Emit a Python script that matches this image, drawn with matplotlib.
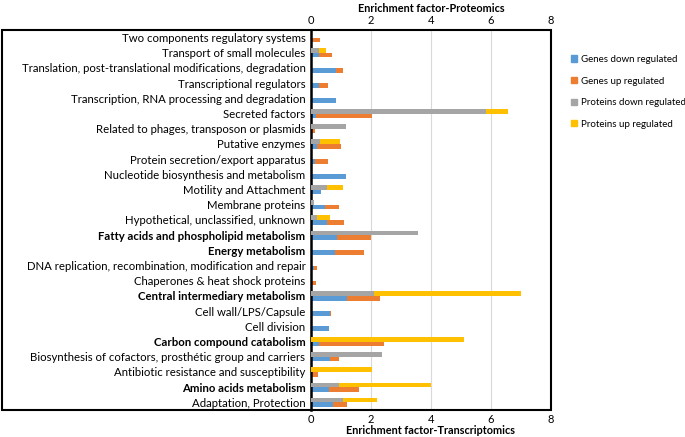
import numpy as np
import matplotlib
matplotlib.use("Agg")
import matplotlib.pyplot as plt
from matplotlib.patches import Rectangle, Patch

plt.rcParams['font.family'] = ['Lato', 'DejaVu Sans']

# categories, top to bottom
categories = [
    "Two components regulatory systems",
    "Transport of small molecules",
    "Translation, post-translational modifications, degradation",
    "Transcriptional regulators",
    "Transcription, RNA processing and degradation",
    "Secreted factors",
    "Related to phages, transposon or plasmids",
    "Putative enzymes",
    "Protein secretion/export apparatus",
    "Nucleotide biosynthesis and metabolism",
    "Motility and Attachment",
    "Membrane proteins",
    "Hypothetical, unclassified, unknown",
    "Fatty acids and phospholipid metabolism",
    "Energy metabolism",
    "DNA replication, recombination, modification and repair",
    "Chaperones & heat shock proteins",
    "Central intermediary metabolism",
    "Cell wall/LPS/Capsule",
    "Cell division",
    "Carbon compound catabolism",
    "Biosynthesis of cofactors, prosthétic group and carriers",
    "Antibiotic resistance and susceptibility",
    "Amino acids metabolism",
    "Adaptation, Protection",
]
bold_cats = ["Fatty acids and phospholipid metabolism", "Energy metabolism",
             "Central intermediary metabolism", "Carbon compound catabolism",
             "Amino acids metabolism"]

# transcriptomics (stacked: down then up)
genes_down = [0.08, 0.26, 0.84, 0.28, 0.83, 0.18, 0.0, 0.20, 0.12, 1.17, 0.33, 0.45, 0.52,
              0.85, 0.80, 0.10, 0.0, 1.20, 0.63, 0.61, 0.25, 0.63, 0.0, 0.60, 0.74]
genes_up = [0.22, 0.45, 0.23, 0.30, 0.0, 1.85, 0.13, 0.81, 0.46, 0.0, 0.0, 0.47, 0.57,
            1.15, 0.98, 0.10, 0.16, 1.09, 0.03, 0.0, 2.19, 0.29, 0.24, 1.01, 0.45]
# proteomics (stacked: down then up)
prot_down = [0.0, 0.25, 0.0, 0.0, 0.0, 5.84, 1.17, 0.31, 0.0, 0.0, 0.54, 0.10, 0.21,
             3.55, 0.0, 0.0, 0.0, 2.10, 0.0, 0.0, 0.0, 2.37, 0.0, 0.92, 1.08]
prot_up = [0.0, 0.25, 0.0, 0.0, 0.0, 0.71, 0.0, 0.65, 0.0, 0.0, 0.54, 0.0, 0.43,
           0.0, 0.0, 0.0, 0.0, 4.91, 0.0, 0.0, 5.10, 0.0, 2.04, 3.08, 1.11]

c_blue, c_orange, c_gray, c_yellow = "#5B9BD5", "#ED7D31", "#A5A5A5", "#FFC000"

fig = plt.figure(figsize=(6.85, 4.37), dpi=100)
ax = fig.add_axes([311/685, 27/437, 240/685, 380/437])

n = len(categories)
y = np.arange(n)[::-1].astype(float)
h = 0.3

ax.set_yticks(y)
ax.set_yticklabels(categories)
ax.tick_params(axis='y', length=0, labelsize=8.2, pad=4)
for lab in ax.get_yticklabels():
    if lab.get_text() in bold_cats:
        lab.set_fontweight('bold')

ax2 = ax.twiny()

ax.barh(y - h/2, genes_down, height=h, color=c_blue, zorder=3)
ax.barh(y - h/2, genes_up, left=genes_down, height=h, color=c_orange, zorder=3)
ax2.barh(y + h/2, prot_down, height=h, color=c_gray, zorder=3)
ax2.barh(y + h/2, prot_up, left=prot_down, height=h, color=c_yellow, zorder=3)

for a in (ax, ax2):
    a.set_xlim(0, 8)
    a.set_xticks([0, 2, 4, 6, 8])
    a.tick_params(axis='x', length=0, labelsize=8, pad=3)
    a.set_ylim(-0.5, n - 0.5)
    for s in a.spines.values():
        s.set_visible(False)
ax.xaxis.grid(True, color="#D9D9D9", lw=0.8, zorder=0)
ax.set_axisbelow(True)
ax2.spines['left'].set_visible(True)
ax2.spines['left'].set_color('black')
ax2.spines['left'].set_linewidth(1.8)

ax.set_xlabel("Enrichment factor-Transcriptomics", fontsize=7.8, fontweight='bold', labelpad=0)
ax2.set_xlabel("Enrichment factor-Proteomics", fontsize=7.8, fontweight='bold', labelpad=2)

# outer frame around labels and plot
fig.patches.append(Rectangle((2/685, 27/437), 549/685, 380/437, transform=fig.transFigure,
                             fill=False, edgecolor='black', lw=1.5, zorder=5))

handles = [Patch(color=c_blue, label="Genes down regulated"),
           Patch(color=c_orange, label="Genes up regulated"),
           Patch(color=c_gray, label="Proteins down regulated"),
           Patch(color=c_yellow, label="Proteins up regulated")]
fig.legend(handles=handles, loc='upper left', bbox_to_anchor=(566/685, 1 - 50/437),
           frameon=False, fontsize=7.0, handlelength=0.6, handleheight=0.6,
           handletextpad=0.4, labelspacing=1.3, borderpad=0)

fig.savefig("out.png", dpi=100)
